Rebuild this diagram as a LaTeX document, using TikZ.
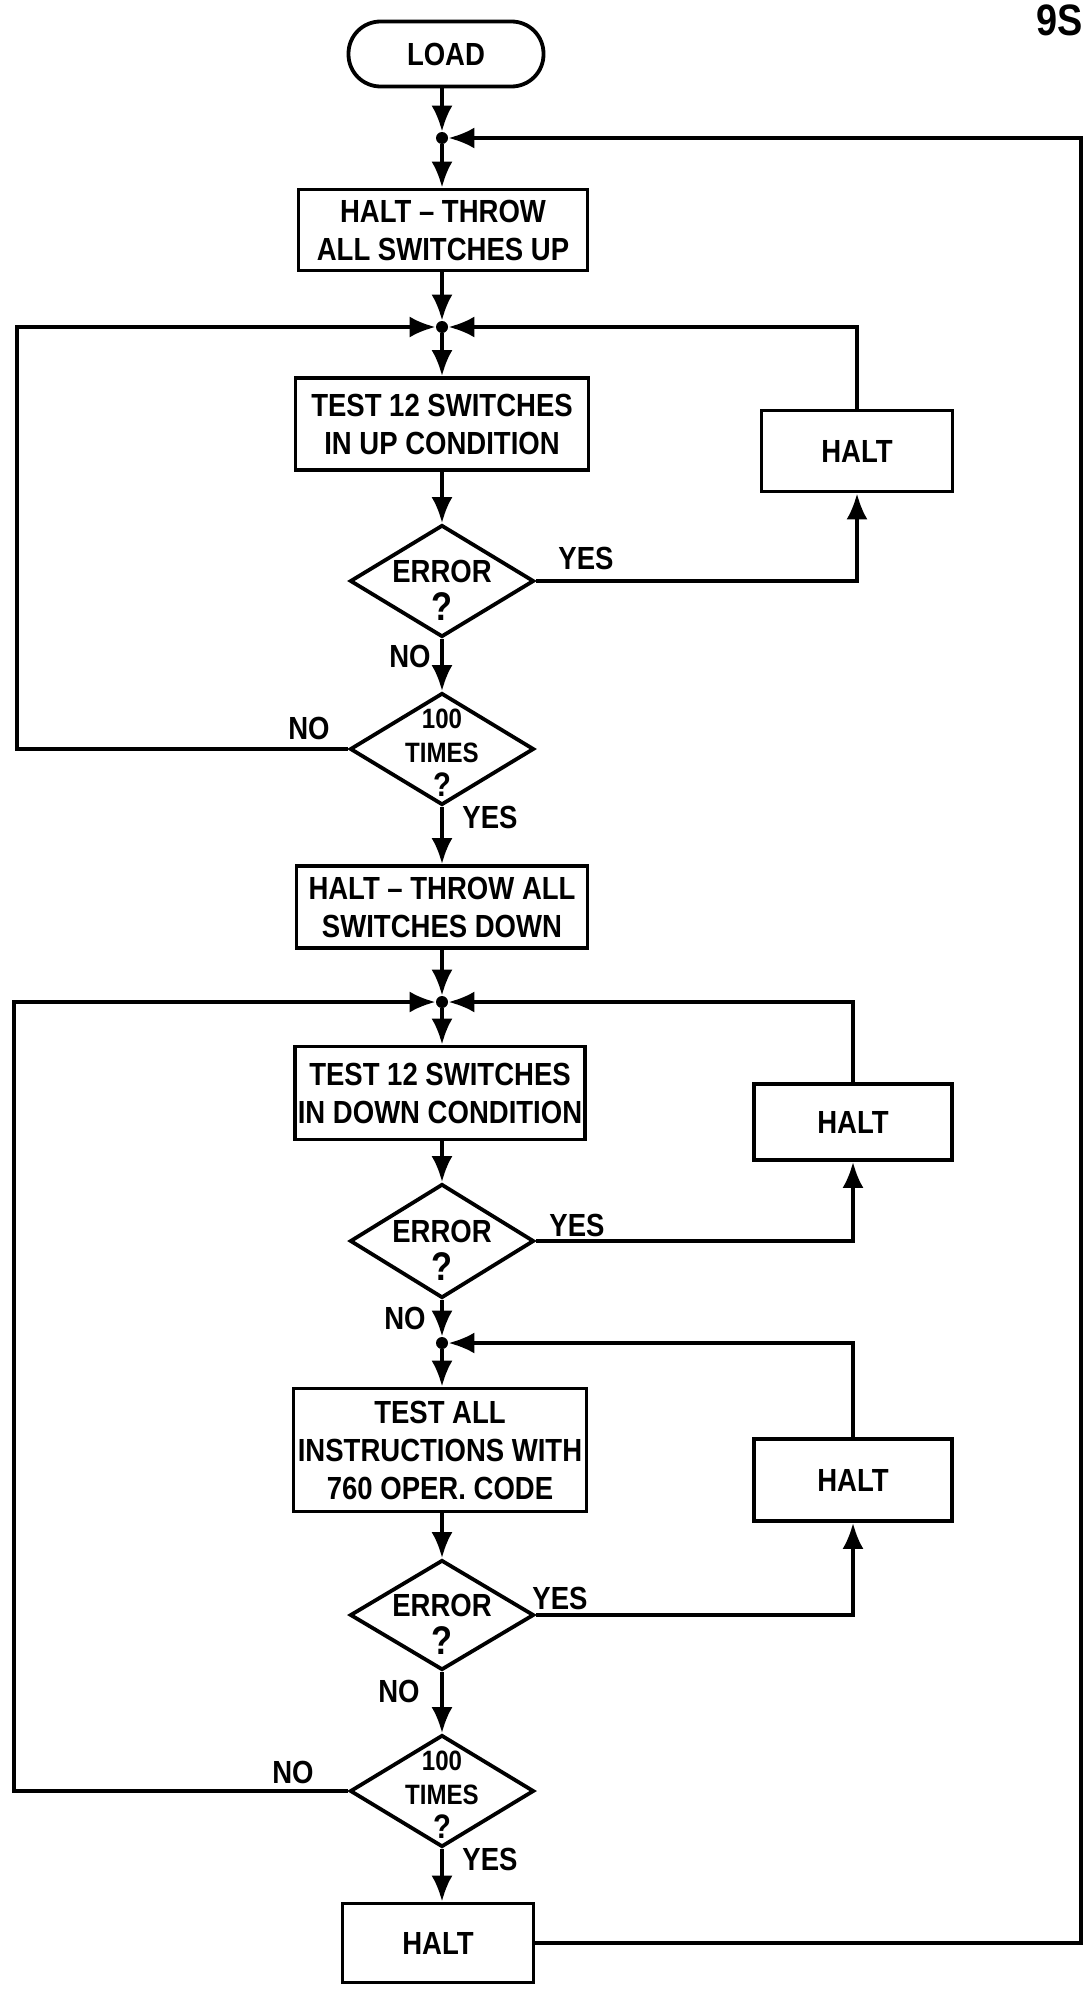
\documentclass[tikz,border=0pt]{standalone}
\usepackage{fontspec}
\setmainfont{Liberation Sans}[FakeStretch=0.86]
\usetikzlibrary{arrows.meta,shapes.geometric}
\begin{document}
\begin{tikzpicture}[x=0.5pt,y=-0.5pt,
  every node/.style={font=\bfseries\fontsize{16}{19}\selectfont},
  ln/.style={line width=1.9pt, line join=miter},
  arr/.style={ln, -{Latex[length=13pt,width=10.5pt]}},
  stepbox/.style={draw, ln, rectangle, align=center, inner sep=0pt},
  decis/.style={draw, ln, diamond, inner sep=0pt, minimum width=92pt, minimum height=56pt},
  dtext/.style={align=center, inner sep=0pt},
  junc/.style={circle, fill, inner sep=0pt, minimum size=6pt},
  lbl/.style={inner sep=0pt}
]
\useasboundingbox (0,0) rectangle (1086,1996);
\fill[white] (0,0) rectangle (1086,1996);

\node[lbl, anchor=north east, font=\bfseries\fontsize{22}{24}\selectfont] (pg) at (1083,4) {9S};

% main column
\node[stepbox, rounded corners=16pt, minimum width=97.5pt, minimum height=32.5pt] (load) at (446,54) {LOAD};
\node[junc] (j1) at (442,138) {};
\node[stepbox, minimum width=144.5pt, minimum height=40.5pt] (throwup) at (443,230) {HALT -- THROW\\ALL SWITCHES UP};
\node[junc] (j2) at (442,327) {};
\node[stepbox, minimum width=146.5pt, minimum height=46pt] (test1) at (442,424) {TEST 12 SWITCHES\\IN UP CONDITION};
\node[stepbox, minimum width=95.5pt, minimum height=40.5pt] (halt1) at (857,451) {HALT};
\node[decis] (err1) at (442,581) {};
\node[dtext] (err1t) at (442,590) {ERROR\\\fontsize{20}{20}\selectfont ?};
\node[decis] (t1) at (442,749) {};
\node[dtext, font=\bfseries\fontsize{14}{17}\selectfont] (t1t) at (442,753) {100\\TIMES\\\fontsize{17}{17}\selectfont ?};

\node[stepbox, minimum width=145.5pt, minimum height=41pt] (down) at (442,907) {HALT -- THROW ALL\\SWITCHES DOWN};
\node[junc] (j3) at (442,1002) {};
\node[stepbox, minimum width=145pt, minimum height=46.5pt] (test2) at (440,1093) {TEST 12 SWITCHES\\IN DOWN CONDITION};
\node[stepbox, minimum width=99pt, minimum height=38pt] (halt2) at (853,1122) {HALT};
\node[decis, minimum height=57pt] (err2) at (442,1241) {};
\node[dtext] (err2t) at (442,1250) {ERROR\\\fontsize{20}{20}\selectfont ?};
\node[junc] (j4) at (442,1343) {};
\node[stepbox, minimum width=146.5pt, minimum height=61.5pt] (test3) at (440,1450) {TEST ALL\\INSTRUCTIONS WITH\\760 OPER. CODE};
\node[stepbox, minimum width=99pt, minimum height=41pt] (halt3) at (853,1480) {HALT};
\node[decis, minimum height=55pt] (err3) at (442,1615) {};
\node[dtext] (err3t) at (442,1624) {ERROR\\\fontsize{20}{20}\selectfont ?};
\node[decis] (t2) at (442,1791) {};
\node[dtext, font=\bfseries\fontsize{14}{17}\selectfont] (t2t) at (442,1795) {100\\TIMES\\\fontsize{17}{17}\selectfont ?};
\node[stepbox, minimum width=95.5pt, minimum height=39.5pt] (haltb) at (438,1943) {HALT};

% labels
\node[lbl] (y1) at (586,558) {YES};
\node[lbl] (n1) at (410,656) {NO};
\node[lbl] (n1l) at (309,728) {NO};
\node[lbl] (y1b) at (490,817) {YES};
\node[lbl] (y2) at (577,1225) {YES};
\node[lbl] (n2) at (405,1318) {NO};
\node[lbl] (y3) at (560,1598) {YES};
\node[lbl] (n3) at (399,1691) {NO};
\node[lbl] (n2l) at (293,1772) {NO};
\node[lbl] (y2b) at (490,1859) {YES};

% connectors: first block
\draw[arr] (load.south -| j1) -- (j1);
\draw[arr] (j1) -- (j1 |- throwup.north);
\draw[arr] (j1 |- throwup.south) -- (j2);
\draw[arr] (j2) -- (j2 |- test1.north);
\draw[arr] (j2 |- test1.south) -- (err1);
\draw[arr] (err1.east) -| (halt1.south);
\draw[arr] (halt1.north) |- (j2);
\draw[arr] (err1.south) -- (t1.north);
\draw[arr] (t1.west) -- (17,749) |- (j2);
\draw[arr] (t1.south) -- (down);

% second block
\draw[arr] (down) -- (j3);
\draw[arr] (j3) -- (j3 |- test2.north);
\draw[arr] (j3 |- test2.south) -- (err2);
\draw[arr] (err2.east) -| (halt2.south);
\draw[arr] (halt2.north) |- (j3);
\draw[arr] (err2.south) -- (j4);
\draw[arr] (j4) -- (j4 |- test3.north);
\draw[arr] (j4 |- test3.south) -- (err3);
\draw[arr] (err3.east) -| (halt3.south);
\draw[arr] (halt3.north) |- (j4);
\draw[arr] (err3.south) -- (t2.north);
\draw[arr] (t2.west) -- (14,1791) |- (j3);
\draw[arr] (t2.south) -- (t2.south |- haltb.north);

% big return loop
\draw[arr] (haltb.east) -- (1081,1943) |- (j1);
\end{tikzpicture}
\end{document}
